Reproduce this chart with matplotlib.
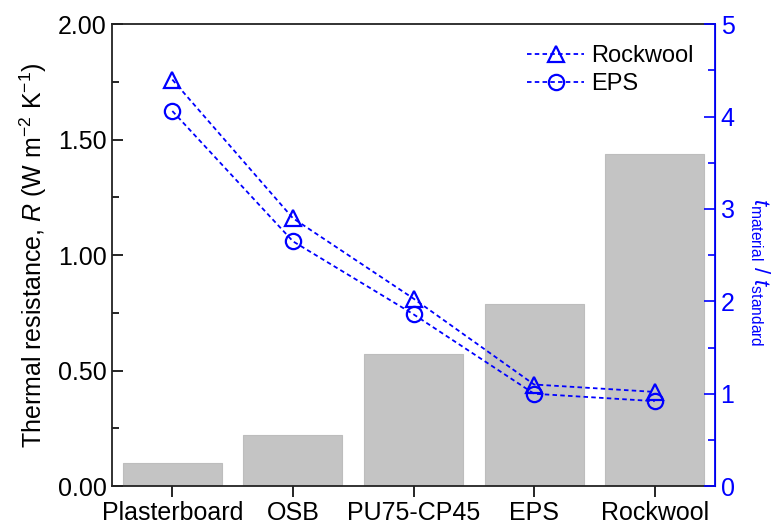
import matplotlib
matplotlib.use("Agg")
import matplotlib.pyplot as plt
from matplotlib.ticker import MultipleLocator, FormatStrFormatter
import numpy as np

plt.rcParams["font.family"] = ["Liberation Sans", "DejaVu Sans"]
plt.rcParams["mathtext.fontset"] = "custom"
plt.rcParams["mathtext.rm"] = "Liberation Sans"
plt.rcParams["mathtext.it"] = "Liberation Sans:italic"

# data
materials = ["Plasterboard", "OSB", "PU75-CP45", "EPS", "Rockwool"]
resistance = [0.10, 0.22, 0.57, 0.79, 1.44]
ratio_rockwool = [4.40, 2.90, 2.03, 1.10, 1.02]
ratio_eps = [4.06, 2.65, 1.86, 1.00, 0.92]

blue = "#0000ff"
x = np.arange(len(materials))

fig = plt.figure(figsize=(7.78, 5.25), dpi=100)
ax = fig.add_axes([0.144, 0.074, 0.775, 0.880])

ax.bar(x, resistance, width=0.82, color="#c4c4c4", edgecolor="#bdbdbd", linewidth=0.8)
ax.set_xlim(-0.5, 4.5)
ax.set_ylim(0, 2.0)
ax.set_xticks(x)
ax.set_xticklabels(materials)
ax.yaxis.set_major_locator(MultipleLocator(0.5))
ax.yaxis.set_minor_locator(MultipleLocator(0.25))
ax.yaxis.set_major_formatter(FormatStrFormatter("%.2f"))
ax.tick_params(axis="y", which="major", direction="in", length=8, width=1.2,
               labelsize=18, pad=4)
ax.tick_params(axis="y", which="minor", direction="in", length=5, width=1.2)
ax.tick_params(axis="x", direction="out", length=8, width=1.2, labelsize=18, pad=3)
ax.set_ylabel(r"Thermal resistance, $R$ (W m$^{-2}$ K$^{-1}$)", fontsize=18, labelpad=6)
for s in ["left", "bottom", "top"]:
    ax.spines[s].set_linewidth(1.3)
    ax.spines[s].set_color("#222222")

ax2 = ax.twinx()
ax2.plot(x, ratio_rockwool, linestyle=(0, (2.5, 1.8)), color=blue, lw=1.3,
         marker="^", markersize=12, markerfacecolor="none", markeredgewidth=1.6,
         label="Rockwool")
ax2.plot(x, ratio_eps, linestyle=(0, (2.5, 1.8)), color=blue, lw=1.3,
         marker="o", markersize=11, markerfacecolor="none", markeredgewidth=1.6,
         label="EPS")
ax2.set_ylim(0, 5)
ax2.yaxis.set_major_locator(MultipleLocator(1))
ax2.yaxis.set_minor_locator(MultipleLocator(0.5))
ax2.tick_params(axis="y", which="major", direction="in", length=8, width=1.2,
                colors=blue, labelsize=18, pad=4)
ax2.tick_params(axis="y", which="minor", direction="in", length=5, width=1.2, colors=blue)
ax2.spines["right"].set_color(blue)
ax2.spines["right"].set_linewidth(1.3)
ax2.spines["left"].set_visible(False)
ax2.spines["top"].set_visible(False)
ax2.spines["bottom"].set_visible(False)

# right axis label, placed by hand next to the tick labels
fig.text(0.977, 0.482, r"$t_{\rm material}$ / $t_{\rm standard}$", color=blue,
         fontsize=16, rotation=270, ha="center", va="center")

leg = ax2.legend(loc="upper right", frameon=False, fontsize=17, handlelength=2.4,
                 handletextpad=0.3, labelspacing=0.25, bbox_to_anchor=(1.0, 1.0))

fig.savefig("out.png", dpi=100)
